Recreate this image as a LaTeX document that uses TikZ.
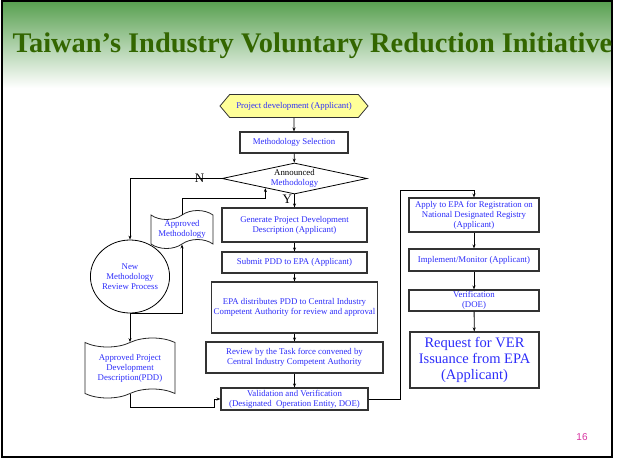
\documentclass[tikz,border=0pt]{standalone}
\usepackage{fontspec}
\setmainfont{Liberation Serif}
\newfontfamily\pagefont{Liberation Sans}
\usetikzlibrary{shapes.geometric, shapes.symbols, arrows.meta, calc}
\definecolor{hdrgreen}{RGB}{88,160,80}
\definecolor{titlegreen}{RGB}{51,102,0}
\definecolor{flowblue}{RGB}{45,45,250}
\definecolor{hexyellow}{RGB}{255,255,153}
\definecolor{pagepink}{RGB}{214,51,160}

\begin{document}
\begin{tikzpicture}[x=1pt, y=-1pt,
    box/.style={draw=black!80, line width=1.1pt, fill=white, text=flowblue, align=center,
        font=\fontsize{8.8}{10}\selectfont, inner sep=1pt},
    doc/.style={tape, draw=black!85, line width=0.8pt, fill=white, text=flowblue, align=center,
        font=\fontsize{8.8}{10}\selectfont, inner sep=1pt, tape bend height=9pt},
    yn/.style={font=\fontsize{13}{14}\selectfont, inner sep=0pt},
    arr/.style={-{Stealth[length=4pt, width=3pt]}, line width=0.8pt}]
    \useasboundingbox (0,0) rectangle (617,463);
    % slide header and frame
    \shade[top color=hdrgreen, bottom color=white] (2,1) rectangle (612,88);
    \draw[line width=2pt] (2,1) rectangle (611.7,457);
    \node[anchor=base west, text=titlegreen, font=\fontsize{28.4}{30}\selectfont\bfseries, inner sep=0]
        (title) at (12.5,52) {Taiwan’s Industry Voluntary Reduction Initiative};
    \node[text=pagepink, font=\pagefont\fontsize{10}{12}\selectfont] (pageno) at (582,437) {16};

    % main column
    \node[box, shape=signal, signal to=west and east, signal pointer angle=100, fill=hexyellow,
        line width=0.8pt, minimum width=148, minimum height=23] (proj) at (294,106) {Project development (Applicant)};
    \node[box, minimum width=108, minimum height=21] (sel) at (294,142.5) {Methodology Selection};
    \node[diamond, draw, line width=0.8pt, aspect=4.6, inner sep=0pt, minimum width=145, minimum height=31,
        align=center, font=\fontsize{8.8}{10}\selectfont] (ann) at (294.5,178.5)
        {Announced\\\textcolor{flowblue}{Methodology}};
    \node[box, minimum width=145, minimum height=34] (gen) at (294.5,225) {Generate Project Development\\Description (Applicant)};
    \node[box, minimum width=145, minimum height=21] (sub) at (294.5,262.5) {Submit PDD to EPA (Applicant)};
    \node[box, minimum width=166, minimum height=51] (epa) at (294.5,307.5) {EPA distributes PDD to Central Industry\\Competent Authority for review and approval};
    \node[box, minimum width=177, minimum height=31] (task) at (294.5,357.5) {Review by the Task force convened by\\Central Industry Competent Authority};
    \node[box, minimum width=147, minimum height=22] (val) at (294.5,399) {Validation and Verification\\(Designated\ \ Operation Entity, DOE)};

    % registration column
    \node[box, minimum width=130, minimum height=34] (apply) at (474,215) {Apply to EPA for Registration on\\National Designated Registry\\(Applicant)};
    \node[box, minimum width=130, minimum height=22] (impl) at (474,260) {Implement/Monitor (Applicant)};
    \node[box, minimum width=130, minimum height=21] (ver) at (474,300.5) {Verification\\(DOE)};
    \node[box, minimum width=129, minimum height=56, font=\fontsize{14.5}{16}\selectfont] (req) at (474.5,360) {Request for VER\\Issuance from EPA\\(Applicant)};

    % new methodology loop
    \node[ellipse, draw, line width=0.8pt, minimum width=66, minimum height=73, inner sep=0pt, align=center,
        text=flowblue, font=\fontsize{8.8}{10}\selectfont] (newrev) at (130,276.5) {New\\Methodology\\Review Process};
    \node[doc, minimum width=62, minimum height=36] (appm) at (182,229.5) {Approved\\Methodology};
    \node[doc, minimum width=90, minimum height=60] (appd) at (130,368) {Approved Project\\Development\\Description(PDD)};

    \coordinate (annedge) at ($(ann.west)!0.6!(ann.south)$);
    \coordinate (jr) at (400,190);
    \coordinate (jd) at (214,407);

    \draw[arr] (proj) -- (sel);
    \draw[arr] (sel) -- (ann);
    \draw[arr] (ann) -- (gen) node[yn, pos=0.35, left=2pt] (yes) {Y};
    \draw[arr] (gen) -- (sub);
    \draw[arr] (sub) -- (epa);
    \draw[arr] (epa) -- (task);
    \draw[arr] (task) -- (val);
    \draw[arr] (ann.west) -| (newrev.north) node[yn, pos=0.12] (no) {N};
    \draw[arr] (newrev.south) -| (appm.south);
    \draw[arr] (appm.north) |- ($(annedge)+(0,10.5)$) -- (annedge);
    \draw[arr] (newrev.south) -- (appd.north);
    \draw[arr] (appd.south) |- (jd) |- (val.west);
    \draw[arr] (val.east) -| (jr) -| (apply.north);
    \draw[arr] (apply) -- (impl);
    \draw[arr] (impl) -- (ver);
    \draw[arr] (ver) -- (req);
\end{tikzpicture}
\end{document}
